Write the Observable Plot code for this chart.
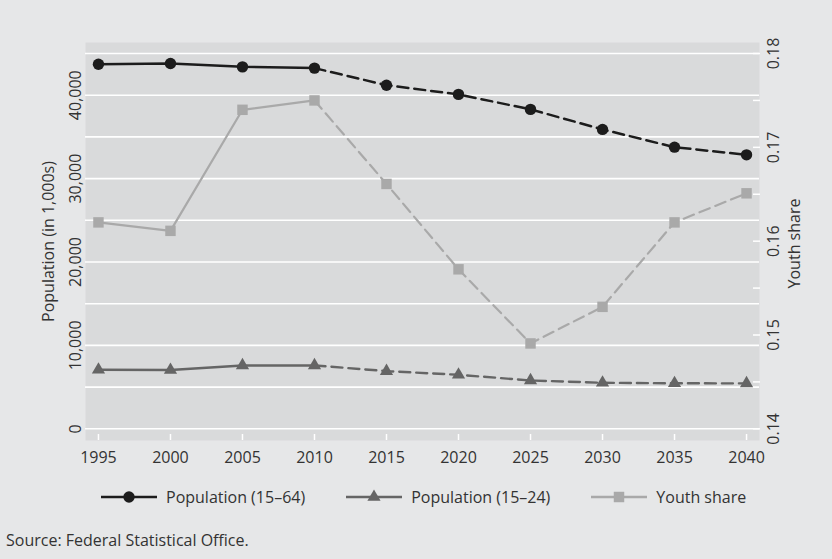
<!DOCTYPE html>
<html>
<head>
<meta charset="utf-8">
<script src="https://cdn.jsdelivr.net/npm/d3@7"></script>
<script src="https://cdn.jsdelivr.net/npm/@observablehq/plot@0.6"></script>
<style>
  html, body { margin: 0; padding: 0; background: #e6e7e8; }
  body { width: 832px; height: 559px; position: relative; overflow: hidden;
         font-family: "Open Sans", sans-serif; color: #333; }
  #chart { position: absolute; left: 0; top: 0; }
  #legend { position: absolute; left: 101px; top: 486px; height: 22px;
            display: flex; align-items: center; gap: 41px; font-size: 16px; color: #333; }
  .item { display: flex; align-items: center; gap: 9px; white-space: nowrap; }
  .item svg { display: block; }
  #caption { position: absolute; left: 6px; top: 529px; font-size: 16px; color: #333; white-space: nowrap; }
</style>
</head>
<body>
<div id="chart"></div>
<div id="legend"></div>
<div id="caption">Source: Federal Statistical Office.</div>
<script>
// ---- data ----
const years = [1995, 2000, 2005, 2010, 2015, 2020, 2025, 2030, 2035, 2040];
const pop1564 = [43710, 43800, 43400, 43250, 41200, 40100, 38300, 35900, 33770, 32850];
const pop1524 = [7080, 7050, 7600, 7600, 6920, 6480, 5800, 5520, 5460, 5450];
const youthShare = [0.1620, 0.1611, 0.1740, 0.1750, 0.1661, 0.1570, 0.1491, 0.1530, 0.1620, 0.1651];
const lastObserved = 2010;

const leftGrid = [0, 5000, 10000, 15000, 20000, 25000, 30000, 35000, 40000, 45000];
const leftLabels = [0, 10000, 20000, 30000, 40000];
const rightLabels = [0.14, 0.15, 0.16, 0.17, 0.18];
const rightMinor = [0.14, 0.145, 0.15, 0.155, 0.16, 0.165, 0.17, 0.175, 0.18];
const rightRange = [0.14, 0.18];   // maps onto left [0, 45000]
const leftRange = [0, 45000];

const seriesNames = ["Population (15\u201364)", "Population (15\u201324)", "Youth share"];
const seriesColors = ["#1c1c1c", "#656565", "#a9a9a9"];
const seriesSymbols = ["circle", "triangle", "square"];

// ---- build table ----
const toLeft = s => leftRange[0] + (s - rightRange[0]) / (rightRange[1] - rightRange[0]) * (leftRange[1] - leftRange[0]);
const rows = years.map((year, i) => ({year, p64: pop1564[i], p24: pop1524[i], ys: toLeft(youthShare[i])}));
const solid = rows.filter(d => d.year <= lastObserved);
const dashed = rows.filter(d => d.year >= lastObserved);
const dash = "11,6";

const fmtL = d3.format(",");
const fmtR = d3.format(".2f");

const marks = [
  Plot.frame({fill: "#d9dadb", stroke: null}),
  Plot.gridY(leftGrid, {stroke: "white", strokeOpacity: 1, strokeWidth: 1.6}),
  Plot.axisX(years, {tickSize: -6, stroke: "white", strokeWidth: 1.5, tickFormat: () => "", label: null}),
  Plot.axisY(rightMinor.map(toLeft), {anchor: "right", tickSize: -7, stroke: "white", strokeWidth: 1.5, tickFormat: () => "", label: null}),
  Plot.axisX(years, {tickSize: 0, tickPadding: 11, tickFormat: d => String(d), label: null, fontSize: 16, fill: "#333"}),
  // left tick labels (rotated)
  Plot.text(leftLabels, {y: d => d, text: d => fmtL(d), frameAnchor: "left", rotate: -90, textAnchor: "middle", lineAnchor: "bottom", dx: -5, fontSize: 16, fill: "#333"}),
  Plot.text(["Population (in 1,000s)"], {text: d => d, frameAnchor: "left", rotate: -90, textAnchor: "middle", lineAnchor: "bottom", dx: -32, fontSize: 16, fill: "#333"}),
  // right tick labels
  Plot.text(rightLabels, {y: d => toLeft(d), text: d => fmtR(d), frameAnchor: "right", rotate: -90, textAnchor: "middle", lineAnchor: "top", dx: 8, fontSize: 16, fill: "#333"}),
  Plot.text(["Youth share"], {text: d => d, frameAnchor: "right", rotate: -90, textAnchor: "middle", lineAnchor: "top", dx: 29, dy: 2, fontSize: 16, fill: "#333"}),
  // youth share
  Plot.line(solid, {x: "year", y: "ys", stroke: seriesColors[2], strokeWidth: 2.2}),
  Plot.line(dashed, {x: "year", y: "ys", stroke: seriesColors[2], strokeWidth: 2.2, strokeDasharray: dash}),
  Plot.dot(rows, {x: "year", y: "ys", symbol: seriesSymbols[2], r: 5.9, fill: seriesColors[2]}),
  // population 15-24
  Plot.line(solid, {x: "year", y: "p24", stroke: seriesColors[1], strokeWidth: 2.4}),
  Plot.line(dashed, {x: "year", y: "p24", stroke: seriesColors[1], strokeWidth: 2.4, strokeDasharray: dash}),
  Plot.dot(rows, {x: "year", y: "p24", symbol: seriesSymbols[1], r: 4.9, fill: seriesColors[1]}),
  // population 15-64
  Plot.line(solid, {x: "year", y: "p64", stroke: seriesColors[0], strokeWidth: 2.5}),
  Plot.line(dashed, {x: "year", y: "p64", stroke: seriesColors[0], strokeWidth: 2.5, strokeDasharray: dash}),
  Plot.dot(rows, {x: "year", y: "p64", symbol: seriesSymbols[0], r: 5.7, fill: seriesColors[0]})
];

const chart = Plot.plot({
  width: 832,
  height: 470,
  marginLeft: 85,
  marginRight: 73,
  marginTop: 42,
  marginBottom: 30,
  x: {domain: [1994.1, 2040.9], label: null},
  y: {domain: [-1400, 46320], label: null},
  style: {background: "transparent", fontFamily: "'Open Sans', sans-serif", fontSize: "16px", color: "#333", overflow: "visible"},
  marks
});
document.getElementById("chart").appendChild(chart);

// ---- legend ----
const legend = document.getElementById("legend");
const symPath = {
  circle: d3.symbol(d3.symbolCircle, Math.PI * 5.7 * 5.7)(),
  triangle: d3.symbol(d3.symbolTriangle, Math.PI * 4.9 * 4.9)(),
  square: d3.symbol(d3.symbolSquare, Math.PI * 5.9 * 5.9)()
};
seriesNames.forEach((name, i) => {
  const item = document.createElement("div");
  item.className = "item";
  item.innerHTML =
    `<svg width="56" height="16" viewBox="0 0 56 16">
       <line x1="0" x2="56" y1="8" y2="8" stroke="${seriesColors[i]}" stroke-width="2.4"/>
       <path transform="translate(28,8)" d="${symPath[seriesSymbols[i]]}" fill="${seriesColors[i]}"/>
     </svg><span>${name}</span>`;
  legend.appendChild(item);
});
</script>
</body>
</html>
